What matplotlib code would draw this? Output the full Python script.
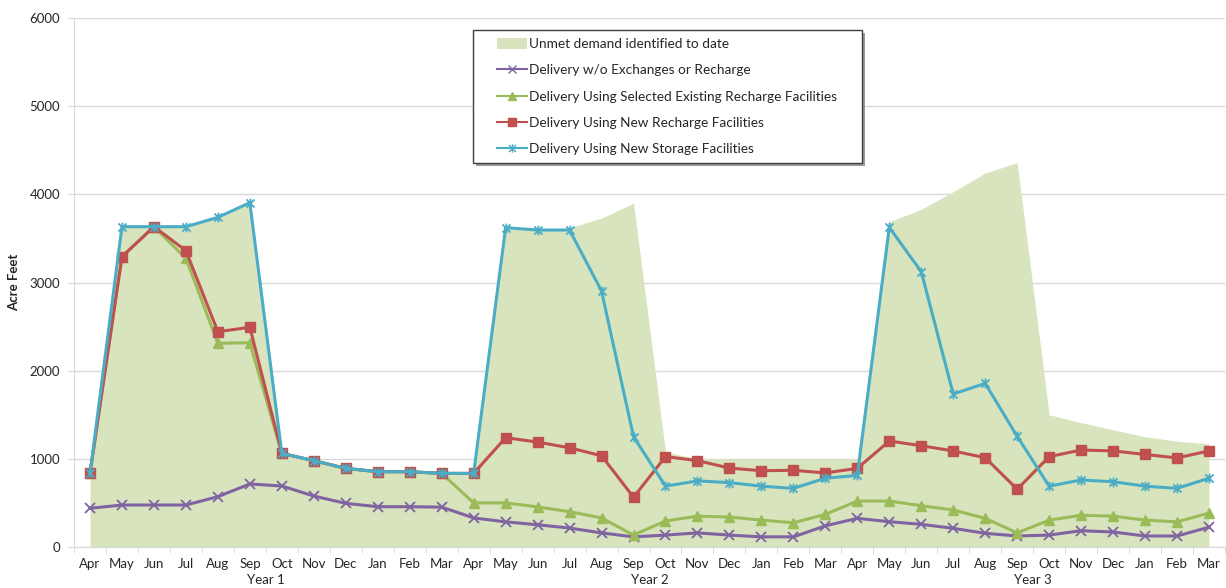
import numpy as np
import matplotlib
matplotlib.use("Agg")
import matplotlib.pyplot as plt
from matplotlib.path import Path
from matplotlib.patches import Rectangle, Patch
from matplotlib.lines import Line2D

plt.rcParams["font.family"] = ["Lato", "DejaVu Sans"]

months = ["Apr", "May", "Jun", "Jul", "Aug", "Sep", "Oct", "Nov", "Dec", "Jan", "Feb", "Mar"] * 3
years = ["Year 1", "Year 2", "Year 3"]

unmet_demand = [
    835, 3633, 3633, 3633, 3739, 3905, 1062, 979, 892, 854, 854, 835,
    835, 3633, 3600, 3620, 3730, 3900, 1080, 1000, 1000, 1000, 1000, 1000,
    1000, 3690, 3830, 4030, 4240, 4360, 1500, 1410, 1330, 1250, 1200, 1170,
]
no_exchange = [
    439, 476, 476, 476, 571, 715, 692, 578, 495, 457, 457, 452,
    330, 285, 252, 215, 160, 115, 135, 160, 135, 115, 115, 240,
    325, 287, 257, 212, 155, 125, 135, 185, 170, 125, 125, 225,
]
existing_recharge = [
    835, 3293, 3633, 3274, 2310, 2317, 1062, 979, 892, 854, 854, 835,
    500, 500, 455, 400, 330, 135, 295, 350, 340, 305, 275, 370,
    521, 521, 468, 420, 325, 160, 305, 360, 350, 305, 285, 385,
]
new_recharge = [
    835, 3293, 3633, 3361, 2442, 2492, 1062, 979, 892, 854, 854, 835,
    835, 1240, 1190, 1125, 1035, 565, 1025, 980, 895, 865, 870, 840,
    892, 1202, 1149, 1089, 1013, 655, 1025, 1100, 1090, 1050, 1010, 1090,
]
new_storage = [
    835, 3633, 3633, 3633, 3739, 3905, 1062, 979, 892, 854, 854, 835,
    835, 3622, 3595, 3595, 2903, 1251, 690, 750, 730, 690, 665, 780,
    812, 3625, 3122, 1735, 1856, 1255, 690, 760, 740, 690, 665, 780,
]

labels = [
    "Unmet demand identified to date",
    "Delivery w/o Exchanges or Recharge",
    "Delivery Using Selected Existing Recharge Facilities",
    "Delivery Using New Recharge Facilities",
    "Delivery Using New Storage Facilities",
]

fill_col = "#D7E4BD"
purple = "#8064A2"
green = "#9BBB59"
red = "#C0504D"
blue = "#4BACC6"
text_col = "#262626"
grid_col = "#D9D9D9"

# Excel-style "star" marker: an x with a vertical stroke
star = Path(
    [(-1, -1), (1, 1), (-1, 1), (1, -1), (0, -1.2), (0, 1.2)],
    [Path.MOVETO, Path.LINETO, Path.MOVETO, Path.LINETO, Path.MOVETO, Path.LINETO],
)

x = np.arange(len(months))

fig = plt.figure(figsize=(12.26, 5.88), dpi=100)
ax = fig.add_axes([74 / 1226, 1 - 547 / 588, 1151 / 1226, 529 / 588])

ax.fill_between(x, 0, unmet_demand, color=fill_col, lw=0, zorder=1)
lw = 2.2
ax.plot(x, no_exchange, color=purple, lw=lw, marker="x", ms=7, mew=1.3, zorder=3)
ax.plot(x, existing_recharge, color=green, lw=lw, marker="^", ms=7, mec=green, zorder=4)
ax.plot(x, new_recharge, color=red, lw=lw, marker="s", ms=7.5, mec=red, zorder=5)
ax.plot(x, new_storage, color=blue, lw=lw, marker=star, ms=7, mew=1.3, zorder=6)

ax.set_xlim(-0.5, len(months) - 0.5)
ax.set_ylim(0, 6000)
ax.set_yticks(range(0, 6001, 1000))
ax.yaxis.grid(True, color=grid_col, lw=1)
ax.set_axisbelow(True)

ax.set_xticks(x)
ax.set_xticklabels(months)
ax.set_xticks(np.arange(-0.5, len(months), 1), minor=True)
ax.tick_params(axis="x", which="major", length=0, pad=8, labelsize=9.5, colors=text_col)
ax.tick_params(axis="x", which="minor", length=4, color=grid_col)
ax.tick_params(axis="y", length=4, color=grid_col, labelsize=9.5, labelcolor=text_col, pad=6)

for s in ["top", "right"]:
    ax.spines[s].set_visible(False)
for s in ["left", "bottom"]:
    ax.spines[s].set_color(grid_col)

ax.set_ylabel("Acre Feet", fontsize=9.5, fontweight="bold", color=text_col, labelpad=7)

for i, yr in enumerate(years):
    ax.annotate(yr, xy=(i * 12 + 5.5, 0), xycoords=("data", "axes fraction"),
                xytext=(0, -24), textcoords="offset points",
                ha="center", va="center", fontsize=9.5, color=text_col)

# legend frame with shadow
fx0, fy0, fw, fh = 0.3467, 0.7259, 0.338, 0.2514
ax.add_patch(Rectangle((fx0 + 0.0025, fy0 - 0.005), fw, fh, transform=ax.transAxes,
                       facecolor="#9a9a9a", edgecolor="none", zorder=9, clip_on=False))
ax.add_patch(Rectangle((fx0, fy0), fw, fh, transform=ax.transAxes,
                       facecolor="white", edgecolor="#404040", lw=1, zorder=10, clip_on=False))

handles = [
    Patch(facecolor=fill_col, edgecolor="none"),
    Line2D([], [], color=purple, lw=1.5, marker="x", ms=6, mew=1),
    Line2D([], [], color=green, lw=1.5, marker="^", ms=6, mec=green),
    Line2D([], [], color=red, lw=1.5, marker="s", ms=6, mec=red),
    Line2D([], [], color=blue, lw=1.5, marker=star, ms=6, mew=1),
]
leg = ax.legend(handles, labels, loc="upper left", bbox_to_anchor=(0.3675, 0.962),
                frameon=False, fontsize=9.8, handlelength=2.2, handletextpad=0.15,
                labelspacing=1.05, borderpad=0, borderaxespad=0, handleheight=0.8)
leg.set_zorder(11)
for t in leg.get_texts():
    t.set_color(text_col)

fig.savefig("out.png", dpi=100)
